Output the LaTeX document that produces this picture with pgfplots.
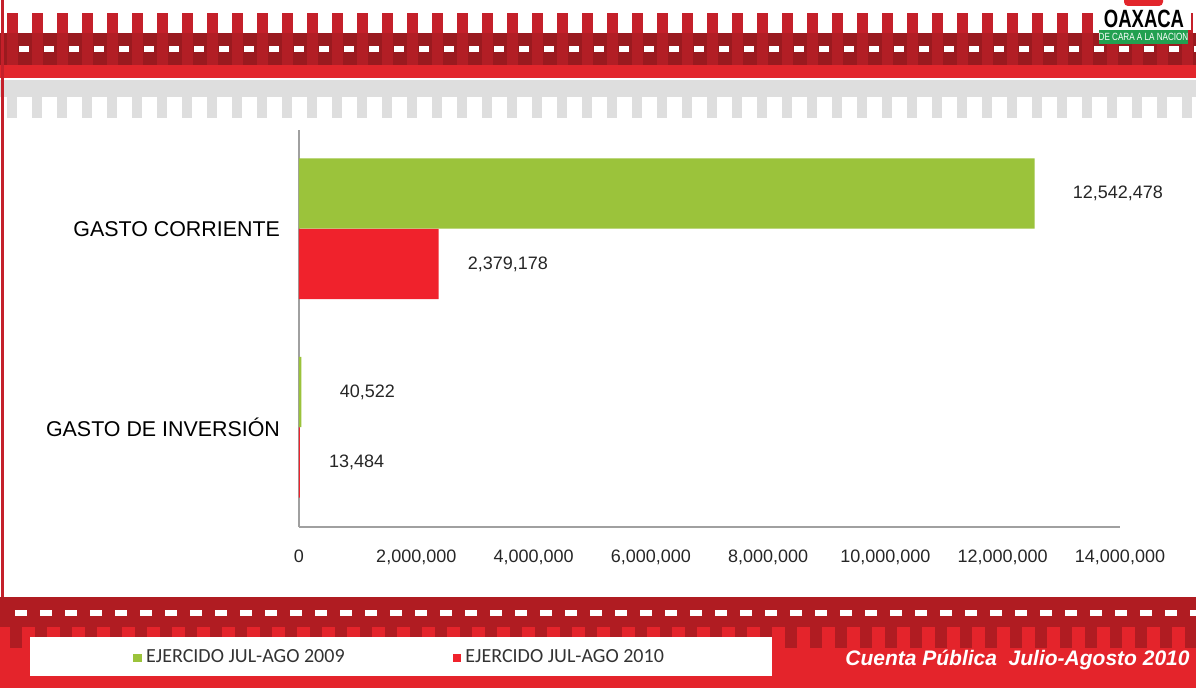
\documentclass[border=0pt]{standalone}
\usepackage{fontspec}
\setmainfont{Liberation Sans}
\newfontfamily\carlito{Carlito}
\usepackage{graphicx}
\usepackage{pgfplots}
\pgfplotsset{compat=1.18}

\definecolor{barGreen}{RGB}{155,195,59}
\definecolor{barRed}{RGB}{240,34,44}
\definecolor{axisGray}{RGB}{160,160,160}
\definecolor{postRed}{RGB}{196,32,42}
\definecolor{bandRed}{RGB}{154,26,31}
\definecolor{bandPost}{RGB}{178,30,37}
\definecolor{lineRed}{RGB}{226,38,44}
\definecolor{fenceGray}{RGB}{222,222,222}
\definecolor{footDark}{RGB}{176,28,34}
\definecolor{footRed}{RGB}{228,36,43}
\definecolor{logoGreen}{RGB}{34,160,80}

\pgfplotsset{sqlegend/.style={legend image code/.code={\fill[##1] (0pt,-2.2pt) rectangle (4.4pt,2.2pt);}}}

\begin{document}
\begin{tikzpicture}
\path[use as bounding box, fill=white] (0,0) rectangle (598pt,344pt);

% slide decoration, in pixel units of the reference (y down)
\begin{scope}[x=0.5pt,y=-0.5pt,shift={(0pt,344pt)}]
  % top fence
  \fill[bandRed] (0,33) rectangle (1196,65);
  \foreach \i in {0,...,47} {
    \fill[postRed] ({7+25*\i},13) rectangle ({18+25*\i},33);
    \fill[bandPost] ({7+25*\i},33) rectangle ({18+25*\i},65);
    \fill[white] ({19+25*\i},46) rectangle ({29+25*\i},52);
  }
  \fill[lineRed] (0,65) rectangle (1196,78);
  % grey fence
  \fill[fenceGray] (0,80) rectangle (1196,97);
  \foreach \i in {0,...,47} {
    \fill[fenceGray] ({7+25*\i},97) rectangle ({17+25*\i},118);
  }
  % logo
  \fill[white] (1097,0) rectangle (1191,30);
  \fill[lineRed, rounded corners=2pt] (1124,-4) rectangle (1163,6);
  \node[font=\bfseries\fontsize{12.5}{13}\selectfont, text=black] at (1144,19) {\scalebox{0.74}[1]{OAXACA}};
  \fill[logoGreen] (1099,30) rectangle (1188,44);
  \node[font=\fontsize{5.2}{6}\selectfont, text=white] at (1143.5,37) {\scalebox{0.78}[1]{DE CARA A LA NACION}};
  % left border
  \fill[postRed] (1,0) rectangle (4,688);
  % bottom band
  \fill[footRed] (0,627) rectangle (1196,688);
  \fill[footDark] (0,597) rectangle (1196,627);
  \foreach \i in {0,...,47} {
    \fill[white] ({15+25*\i},610) rectangle ({27+25*\i},616);
    \fill[footDark] ({10+25*\i},627) rectangle ({22+25*\i},648);
  }
  \fill[white] (30,637) rectangle (772,676);
  \node[anchor=east, inner sep=0pt, text=white, font=\bfseries\itshape\fontsize{10.5}{12}\selectfont] at (1190,660) {Cuenta Pública\ \ Julio-Agosto 2010};
\end{scope}

\begin{axis}[
  at={(149.5pt,80.5pt)}, anchor=south west,
  scale only axis, width=410.5pt, height=198.5pt,
  xmin=0, xmax=14000000, ymin=-0.5, ymax=1.5,
  axis x line=bottom, axis y line=left,
  axis line style={draw=axisGray, line width=0.6pt, -},
  scaled x ticks=false,
  xtick={0,2000000,4000000,6000000,8000000,10000000,12000000,14000000},
  xticklabels={0,{2,000,000},{4,000,000},{6,000,000},{8,000,000},{10,000,000},{12,000,000},{14,000,000}},
  ytick={0,1},
  yticklabels={GASTO DE INVERSIÓN,GASTO CORRIENTE},
  major tick length=0pt,
  xticklabel style={font=\fontsize{9}{11}\selectfont, text=black!85, yshift=-8pt},
  yticklabel style={font=\fontsize{10.7}{13}\selectfont, text=black, xshift=-6pt},
  xbar, bar width=0.353,
  point meta=explicit symbolic,
  nodes near coords,
  nodes near coords style={font=\fontsize{9}{11}\selectfont, text=black!85, anchor=west, inner sep=0pt},
  legend columns=2,
  legend style={at={(axis description cs:-0.2022,-0.33)}, anchor=west, draw=none, fill=none,
    inner sep=0pt, font=\carlito\fontsize{10}{12}\selectfont, text=black!80,
    /tikz/every even column/.append style={column sep=52pt}},
]
\addplot[fill=barGreen, draw=none, bar shift=0.18, sqlegend,
  nodes near coords style={xshift=19pt}]
  coordinates {(12542478,1) [12,542,478] (40522,0) [40,522]};
\addlegendentry{EJERCIDO JUL-AGO 2009}
\addplot[fill=barRed, draw=none, bar shift=-0.175, sqlegend,
  nodes near coords style={xshift=14.5pt}]
  coordinates {(2379178,1) [2,379,178] (13484,0) [13,484]};
\addlegendentry{EJERCIDO JUL-AGO 2010}
\end{axis}
\end{tikzpicture}
\end{document}
